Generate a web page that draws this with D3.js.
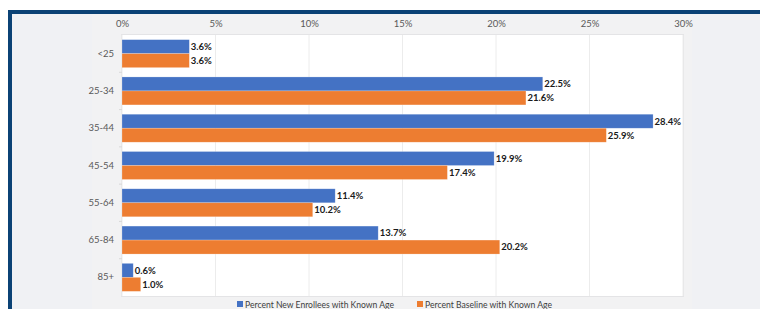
<!DOCTYPE html>
<html><head><meta charset="utf-8">
<script src="https://cdn.jsdelivr.net/npm/d3@7"></script>
<style>
html,body{margin:0;padding:0;background:#fff;}
svg{display:block;font-family:Lato,"Open Sans",sans-serif;}
</style></head>
<body>
<svg id="c" width="760" height="309"></svg>
<script>
const categories = ["<25","25-34","35-44","45-54","55-64","65-84","85+"];
const newEnrollees = [3.6,22.5,28.4,19.9,11.4,13.7,0.6];
const baseline = [3.6,21.6,25.9,17.4,10.2,20.2,1.0];
const seriesNames = ["Percent New Enrollees with Known Age","Percent Baseline with Known Age"];
const seriesColors = ["#4472C4","#ED7D31"];
const xTicks = [0,5,10,15,20,25,30];

const svg = d3.select("#c");
// frame
svg.append("rect").attr("x",8).attr("y",10).attr("width",760).attr("height",309).attr("fill","#f0f1f4");
svg.append("rect").attr("x",92).attr("y",14).attr("width",600).attr("height",300).attr("fill","#f2f2f3");
svg.append("rect").attr("x",8).attr("y",10).attr("width",760).attr("height",4).attr("fill","#0b4275");
svg.append("rect").attr("x",8).attr("y",10).attr("width",4).attr("height",309).attr("fill","#0b4275");

const m = {l:122, r:683, t:35, b:296};
const x = d3.scaleLinear().domain([0,30]).range([m.l,m.r]);
const y = d3.scaleBand().domain(categories).range([m.t,m.b]).paddingInner(0.25).paddingOuter(0.125);
const yOuter = d3.scaleBand().domain(categories).range([m.t,m.b]);

// plot bg
svg.append("rect").attr("x",m.l-1).attr("y",m.t-1).attr("width",m.r-m.l+2).attr("height",m.b-m.t+2).attr("fill","#e4e4e6");
svg.append("rect").attr("x",m.l).attr("y",m.t).attr("width",m.r-m.l).attr("height",m.b-m.t).attr("fill","#fff");

// gridlines
svg.append("g").selectAll("line").data(xTicks).join("line")
  .attr("x1",d=>x(d)).attr("x2",d=>x(d)).attr("y1",m.t).attr("y2",m.b)
  .attr("stroke","#ececec").attr("stroke-width",1);

// top axis
const ax = svg.append("g").attr("transform",`translate(0,${m.t-8})`)
  .call(d3.axisTop(x).tickValues(xTicks).tickFormat(d=>d+"%").tickSize(0).tickPadding(0));
ax.select(".domain").remove();
ax.selectAll("text").attr("fill","#595959").style("font-size","9.5px").style("font-family","Lato,sans-serif");

// left axis
const ay = svg.append("g").attr("transform",`translate(${m.l},0)`)
  .call(d3.axisLeft(yOuter).tickSize(0).tickPadding(8));
ay.select(".domain").remove();
ay.selectAll("text").attr("fill","#595959").style("font-size","9.5px").style("font-family","Lato,sans-serif");
// small tick marks between categories
svg.append("g").selectAll("line").data(categories.slice(1)).join("line")
  .attr("x1",m.l-3).attr("x2",m.l).attr("y1",d=>yOuter(d)).attr("y2",d=>yOuter(d))
  .attr("stroke","#d9d9d9");

const bh = y.bandwidth()/2;
const series = [newEnrollees, baseline];
series.forEach((vals,si)=>{
  const g = svg.append("g");
  g.selectAll("rect").data(categories).join("rect")
    .attr("x",x(0)).attr("y",(d)=>y(d)+si*bh)
    .attr("width",(d,i)=>x(vals[i])-x(0)).attr("height",bh)
    .attr("fill",seriesColors[si])
    .attr("stroke","#fff").attr("stroke-opacity",0.35).attr("stroke-width",0.6);
  g.selectAll("text").data(categories).join("text")
    .attr("x",(d,i)=>x(vals[i])+1.5).attr("y",(d)=>y(d)+si*bh+bh/2)
    .attr("dy","0.35em").attr("fill","#1a1a1a")
    .style("font-size","9.5px").style("font-weight","bold")
    .text((d,i)=>vals[i].toFixed(1)+"%");
});

// legend
const legX = [237,417];
const legW = [149,127];
seriesNames.forEach((n,i)=>{
  svg.append("rect").attr("x",legX[i]).attr("y",301).attr("width",6).attr("height",6).attr("fill",seriesColors[i]);
  svg.append("text").attr("x",legX[i]+8).attr("y",304.5).attr("dy","0.35em")
    .attr("fill","#404040").style("font-size","9.5px")
    .attr("textLength",legW[i]).attr("lengthAdjust","spacingAndGlyphs").text(n);
});
</script>
</body></html>
